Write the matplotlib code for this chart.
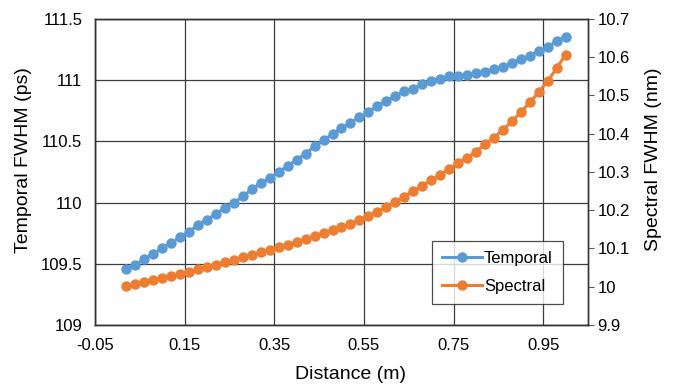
import matplotlib
matplotlib.use("Agg")
import matplotlib.pyplot as plt
import numpy as np

plt.rcParams["font.family"] = ["Liberation Sans", "DejaVu Sans"]

# Distance along the fibre (m)
distance = [0.02, 0.04, 0.06, 0.08, 0.10, 0.12, 0.14, 0.16, 0.18, 0.20,
            0.22, 0.24, 0.26, 0.28, 0.30, 0.32, 0.34, 0.36, 0.38, 0.40,
            0.42, 0.44, 0.46, 0.48, 0.50, 0.52, 0.54, 0.56, 0.58, 0.60,
            0.62, 0.64, 0.66, 0.68, 0.70, 0.72, 0.74, 0.76, 0.78, 0.80,
            0.82, 0.84, 0.86, 0.88, 0.90, 0.92, 0.94, 0.96, 0.98, 1.00]

# Temporal FWHM (ps), left axis
temporal = [109.455, 109.49, 109.54, 109.58, 109.63, 109.67, 109.72, 109.76, 109.82, 109.86,
            109.91, 109.955, 110.00, 110.05, 110.11, 110.16, 110.20, 110.25, 110.30, 110.35,
            110.40, 110.46, 110.51, 110.56, 110.61, 110.65, 110.70, 110.74, 110.79, 110.83,
            110.87, 110.91, 110.93, 110.97, 110.99, 111.01, 111.03, 111.03, 111.04, 111.06,
            111.07, 111.09, 111.11, 111.14, 111.17, 111.20, 111.24, 111.27, 111.32, 111.355]

# Spectral FWHM (nm), right axis
spectral = [10.003, 10.007, 10.013, 10.018, 10.024, 10.029, 10.033, 10.039, 10.046, 10.051,
            10.057, 10.064, 10.070, 10.077, 10.083, 10.091, 10.096, 10.103, 10.109, 10.116,
            10.124, 10.133, 10.140, 10.148, 10.155, 10.165, 10.175, 10.185, 10.196, 10.208,
            10.222, 10.235, 10.250, 10.263, 10.279, 10.292, 10.308, 10.323, 10.337, 10.353,
            10.372, 10.390, 10.410, 10.432, 10.456, 10.482, 10.508, 10.538, 10.571, 10.607]

x_ticks = [-0.05, 0.15, 0.35, 0.55, 0.75, 0.95]
x_tick_labels = ["-0.05", "0.15", "0.35", "0.55", "0.75", "0.95"]
left_ticks = [109, 109.5, 110, 110.5, 111, 111.5]
left_tick_labels = ["109", "109.5", "110", "110.5", "111", "111.5"]
right_ticks = [9.9, 10.0, 10.1, 10.2, 10.3, 10.4, 10.5, 10.6, 10.7]
right_tick_labels = ["9.9", "10", "10.1", "10.2", "10.3", "10.4", "10.5", "10.6", "10.7"]

blue = "#5B9BD5"
orange = "#ED7D31"
grid_color = "#3c3c3c"

fig = plt.figure(figsize=(6.8, 3.87), dpi=100)
ax = fig.add_axes([0.1397, 0.1602, 0.7250, 0.7908])
ax2 = ax.twinx()

l1, = ax.plot(distance, temporal, color=blue, lw=2.2, marker="o", ms=7.5,
              markeredgewidth=0, label="Temporal", zorder=3)
l2, = ax2.plot(distance, spectral, color=orange, lw=2.2, marker="o", ms=7.5,
               markeredgewidth=0, label="Spectral", zorder=3)

ax.set_xlim(-0.05, 1.05)
ax.set_ylim(109, 111.5)
ax2.set_ylim(9.9, 10.7)

ax.set_xticks(x_ticks)
ax.set_xticklabels(x_tick_labels)
ax.set_yticks(left_ticks)
ax.set_yticklabels(left_tick_labels)
ax2.set_yticks(right_ticks)
ax2.set_yticklabels(right_tick_labels)

# gridlines every 0.2 m and on the left-axis ticks
ax.grid(True, color=grid_color, lw=0.9)
ax.set_axisbelow(True)

ax.tick_params(axis="both", length=0, labelsize=12)
ax.tick_params(axis="y", pad=9)
ax.tick_params(axis="x", pad=9)
ax2.tick_params(axis="y", direction="out", length=4, width=0.8,
                color="#555555", labelsize=12, pad=3)

for a in (ax, ax2):
    for s in a.spines.values():
        s.set_color("#333333")
        s.set_linewidth(1.0)

ax.set_xlabel("Distance (m)", fontsize=14)
ax.set_ylabel("Temporal FWHM (ps)", fontsize=14)
ax2.set_ylabel("Spectral FWHM (nm)", fontsize=14, rotation=90)
ax.xaxis.set_label_coords(0.518, -0.135)
ax.yaxis.set_label_coords(-0.127, 0.54)
ax2.yaxis.set_label_coords(1.115, 0.54)

leg = ax2.legend(handles=[l1, l2], loc="lower right", bbox_to_anchor=(0.949, 0.068),
                 fontsize=12, frameon=True, fancybox=False, handlelength=2.4,
                 handletextpad=0.15, borderpad=0.6, labelspacing=0.8,
                 borderaxespad=0)
leg.get_frame().set_edgecolor("#222222")
leg.get_frame().set_linewidth(0.9)

fig.savefig("out.png", dpi=100)
